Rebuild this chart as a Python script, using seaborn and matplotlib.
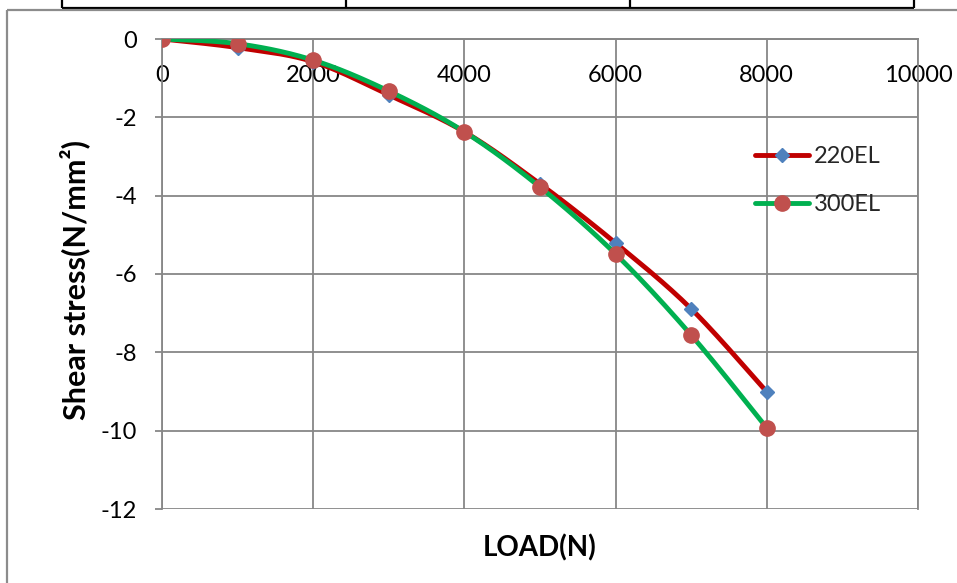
import numpy as np
import pandas as pd
import matplotlib
matplotlib.use("Agg")
import matplotlib.pyplot as plt
from matplotlib.lines import Line2D
import seaborn as sns

# Shear stress vs. applied load for the two sections
load = [0, 1000, 2000, 3000, 4000, 5000, 6000, 7000, 8000]
stress_220el = [0, -0.22, -0.58, -1.43, -2.37, -3.70, -5.21, -6.89, -9.01]
stress_300el = [0, -0.12, -0.54, -1.33, -2.37, -3.78, -5.49, -7.56, -9.93]
series_names = ["220EL", "300EL"]
x_ticks = [0, 2000, 4000, 6000, 8000, 10000]
y_ticks = [0, -2, -4, -6, -8, -10, -12]

sns.set_style("white")
plt.rcParams["font.family"] = ["Lato", "DejaVu Sans"]

W, H = 957, 583
GRID = "#878787"
RED_LINE, BLUE_MK = "#C00000", "#4F81BD"
GREEN_LINE, RED_MK = "#00B050", "#C0504D"


def smooth_path(x, y, samples=24):
    """Bezier smoothing through every point (Catmull-Rom style control points)."""
    p = np.column_stack([x, y]).astype(float)
    ext = np.vstack([p[0], p, p[-1]])
    pts = []
    t = np.linspace(0, 1, samples)[:, None]
    for i in range(len(p) - 1):
        p0, p1, p2, p3 = ext[i], ext[i + 1], ext[i + 2], ext[i + 3]
        c1 = p1 + (p2 - p0) / 6.0
        c2 = p2 - (p3 - p1) / 6.0
        seg = ((1 - t) ** 3) * p1 + 3 * ((1 - t) ** 2) * t * c1 + 3 * (1 - t) * t ** 2 * c2 + t ** 3 * p2
        pts.append(seg if i == 0 else seg[1:])
    out = np.vstack(pts)
    return out[:, 0], out[:, 1]


fig = plt.figure(figsize=(W / 100, H / 100), dpi=100)
fig.patch.set_facecolor("white")

# table rule above the chart and the chart frame
def fig_line(x0, y0, x1, y1, color, lw):
    fig.add_artist(Line2D([x0 / W, x1 / W], [1 - y0 / H, 1 - y1 / H],
                          transform=fig.transFigure, color=color, lw=lw,
                          solid_capstyle="butt"))

fig_line(62, 8, 914, 8, "black", 1.6)
for xv in (62, 346, 630, 914):
    fig_line(xv, 0, xv, 8, "black", 1.6)
fig_line(7, 10, W, 10, "#8c8c8c", 1.6)
fig_line(7, 10, 7, H, "#8c8c8c", 1.6)

ax = fig.add_axes([162 / W, 1 - 509 / H, (918 - 162) / W, (509 - 39) / H])
ax.set_facecolor("white")

df = pd.DataFrame({"load": load, "220EL": stress_220el, "300EL": stress_300el})

styles = [
    ("220EL", RED_LINE, BLUE_MK, "D", 7.5),
    ("300EL", GREEN_LINE, RED_MK, "o", 11),
]
z = 3
for name, lc, mc, mk, ms in styles:
    sx, sy = smooth_path(df["load"], df[name])
    sns.lineplot(x=sx, y=sy, ax=ax, color=lc, lw=3.5, sort=False,
                 estimator=None, zorder=z)
    ax.plot(df["load"], df[name], ls="none", marker=mk, ms=ms,
            mfc=mc, mec=mc, zorder=z + 1)
    z += 2

ax.set_xlim(0, 10000)
ax.set_ylim(-12, 0)
ax.set_xticks(x_ticks)
ax.set_yticks(y_ticks)
ax.set_xticklabels([str(v) for v in x_ticks])
ax.set_yticklabels([str(v) for v in y_ticks])

ax.grid(True, color=GRID, lw=1.3)
ax.set_axisbelow(True)
for side, sp in ax.spines.items():
    sp.set_color(GRID)
    sp.set_linewidth(1.3)
ax.spines["bottom"].set_position(("data", 0))

ax.tick_params(axis="x", length=0, pad=19, labelsize=17, labelcolor="black")
ax.tick_params(axis="y", length=5, width=1.3, color=GRID, pad=13,
               labelsize=17, labelcolor="black", left=True)

ax.set_xlabel("LOAD(N)", fontsize=20, fontweight="bold", color="black")
ax.set_ylabel("Shear stress(N/mm²)", fontsize=22, fontweight="bold", color="black")
ax.xaxis.set_label_coords(0.5, (509 - 548) / 470)
ax.xaxis.label.set_va("center")
ax.yaxis.set_label_coords((75 - 162) / 756, (509 - 280) / 470)
ax.yaxis.label.set_va("center")

handles = [
    Line2D([], [], color=RED_LINE, lw=3.5, marker="D", ms=7.5, mfc=BLUE_MK, mec=BLUE_MK),
    Line2D([], [], color=GREEN_LINE, lw=3.5, marker="o", ms=11, mfc=RED_MK, mec=RED_MK),
]
fig.legend(handles, series_names, loc="center left",
           bbox_to_anchor=(755 / W, 1 - 180.5 / H), frameon=False,
           fontsize=17, handlelength=2.3, handletextpad=0.2,
           labelspacing=1.15, borderpad=0, borderaxespad=0)

fig.savefig("out.png", dpi=100, facecolor="white")
